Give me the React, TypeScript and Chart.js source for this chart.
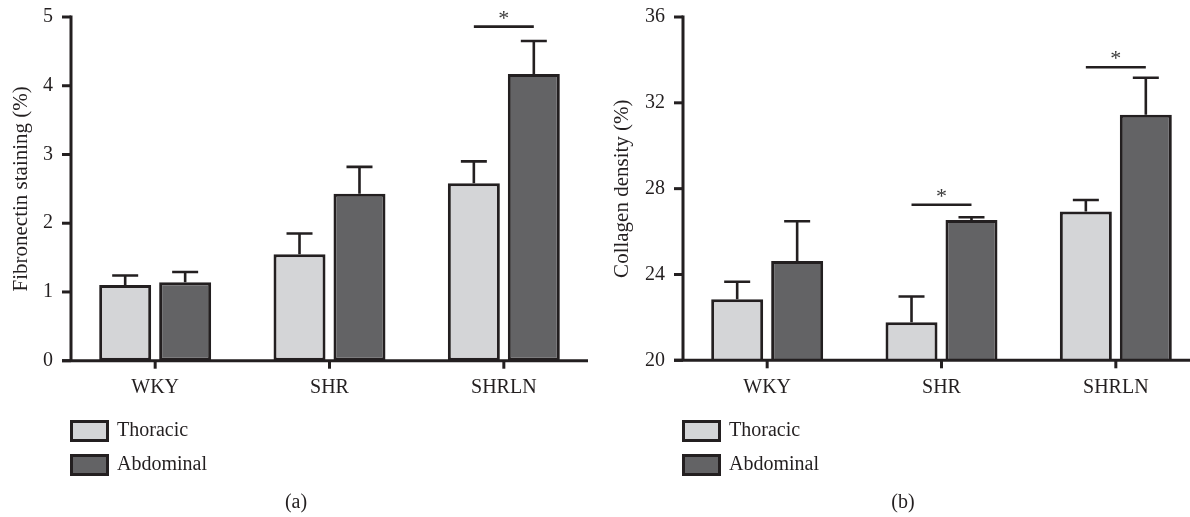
import React, { useEffect, useRef } from 'react';
import { Chart, registerables } from 'chart.js';

Chart.register(...registerables);

// ---------- data ----------
const categories = ['WKY', 'SHR', 'SHRLN'];
const seriesNames = ['Thoracic', 'Abdominal'];

// (a) Fibronectin staining (%)
const fibroThoracic = [1.1, 1.55, 2.58];
const fibroAbdominal = [1.14, 2.43, 4.17];
const fibroThoracicErr = [0.14, 0.3, 0.32];
const fibroAbdominalErr = [0.15, 0.39, 0.48];
const fibroSigLevel = [null, null, 4.86];
const fibroTicks = [0, 1, 2, 3, 4, 5];

// (b) Collagen density (%)
const collThoracic = [22.84, 21.77, 26.93];
const collAbdominal = [24.63, 26.54, 31.45];
const collThoracicErr = [0.82, 1.2, 0.54];
const collAbdominalErr = [1.85, 0.13, 1.72];
const collSigLevel = [null, 27.25, 33.66];
const collTicks = [20, 24, 28, 32, 36];

// ---------- styles ----------
const INK = '#231f20';
const FILLS = ['#d4d5d7', '#636365'];
const FONT = "'Liberation Serif', 'Times New Roman', serif";
const CANVAS_H = 517;

type PanelProps = {
  left: number;
  width: number;
  areaLeft: number;
  areaRight: number;
  areaTop: number;
  areaBottom: number;
  yTitle: string;
  yTitlePad: number;
  caption: string;
  captionX: number;
  thoracic: number[];
  abdominal: number[];
  thoracicErr: number[];
  abdominalErr: number[];
  sigLevel: (number | null)[];
  ticks: number[];
  axisRightInset: number;
};

function Panel(p: PanelProps) {
  const ref = useRef<HTMLCanvasElement | null>(null);

  useEffect(() => {
    const canvas = ref.current;
    if (!canvas) return;
    const errs = [p.thoracicErr, p.abdominalErr];
    const yMin = p.ticks[0];
    const yMax = p.ticks[p.ticks.length - 1];
    const step = p.ticks[1] - p.ticks[0];

    const overlay = {
      id: 'overlay',
      afterDatasetsDraw(chart: any) {
        const ctx = chart.ctx as CanvasRenderingContext2D;
        const area = chart.chartArea;
        const ys = chart.scales.y;
        const xs = chart.scales.x;
        ctx.save();
        ctx.strokeStyle = INK;
        ctx.lineCap = 'butt';

        // error bars (upper only)
        ctx.lineWidth = 2.6;
        for (let d = 0; d < 2; d++) {
          const meta = chart.getDatasetMeta(d);
          const vals = chart.data.datasets[d].data as number[];
          meta.data.forEach((bar: any, i: number) => {
            const yTop = ys.getPixelForValue(vals[i] + errs[d][i]);
            const yBar = ys.getPixelForValue(vals[i]);
            ctx.beginPath();
            ctx.moveTo(bar.x, yBar);
            ctx.lineTo(bar.x, yTop);
            ctx.moveTo(bar.x - 13, yTop);
            ctx.lineTo(bar.x + 13, yTop);
            ctx.stroke();
          });
        }

        // axes
        const axisX = area.left + 3;
        ctx.lineWidth = 3;
        ctx.beginPath();
        ctx.moveTo(axisX, ys.getPixelForValue(yMax) - 1.5);
        ctx.lineTo(axisX, area.bottom);
        ctx.stroke();
        p.ticks.forEach((t) => {
          const y = ys.getPixelForValue(t);
          ctx.beginPath();
          ctx.moveTo(axisX - 9, y);
          ctx.lineTo(axisX, y);
          ctx.stroke();
        });
        ctx.beginPath();
        ctx.moveTo(axisX - 9, area.bottom);
        ctx.lineTo(area.right - p.axisRightInset, area.bottom);
        ctx.stroke();
        categories.forEach((_, i) => {
          const x = xs.getPixelForValue(i);
          ctx.beginPath();
          ctx.moveTo(x, area.bottom);
          ctx.lineTo(x, area.bottom + 8);
          ctx.stroke();
        });

        // significance markers
        const m0 = chart.getDatasetMeta(0);
        const m1 = chart.getDatasetMeta(1);
        p.sigLevel.forEach((lvl, i) => {
          if (lvl === null || lvl === undefined) return;
          const y = ys.getPixelForValue(lvl);
          const x0 = m0.data[i].x;
          const x1 = m1.data[i].x;
          ctx.lineWidth = 2.6;
          ctx.strokeStyle = INK;
          ctx.beginPath();
          ctx.moveTo(x0, y);
          ctx.lineTo(x1, y);
          ctx.stroke();
          ctx.fillStyle = '#3a3a3a';
          ctx.font = `22px ${FONT}`;
          ctx.textAlign = 'center';
          ctx.textBaseline = 'alphabetic';
          ctx.fillText('*', (x0 + x1) / 2, y - 2);
        });

        // legend
        const boxX = axisX - 1;
        const rows = [420, 454];
        seriesNames.forEach((name, d) => {
          const by = rows[d];
          ctx.fillStyle = FILLS[d];
          ctx.fillRect(boxX, by, 39, 22);
          ctx.lineWidth = 3;
          ctx.strokeStyle = INK;
          ctx.strokeRect(boxX + 1.5, by + 1.5, 36, 19);
          ctx.fillStyle = INK;
          ctx.font = `20px ${FONT}`;
          ctx.textAlign = 'left';
          ctx.textBaseline = 'middle';
          ctx.fillText(chart.data.datasets[d].label, boxX + 47, by + 11);
        });

        // caption
        ctx.fillStyle = INK;
        ctx.font = `20px ${FONT}`;
        ctx.textAlign = 'center';
        ctx.textBaseline = 'middle';
        ctx.fillText(p.caption, p.captionX, 503);
        ctx.restore();
      },
    };

    const tickFont = { family: FONT, size: 20 };
    const chart = new Chart(canvas, {
      type: 'bar',
      data: {
        labels: categories,
        datasets: [
          {
            label: seriesNames[0],
            data: p.thoracic,
            backgroundColor: FILLS[0],
            borderColor: INK,
            borderWidth: 3,
            borderSkipped: false,
            categoryPercentage: 0.688,
            barPercentage: 0.867,
          },
          {
            label: seriesNames[1],
            data: p.abdominal,
            backgroundColor: FILLS[1],
            borderColor: INK,
            borderWidth: 3,
            borderSkipped: false,
            categoryPercentage: 0.688,
            barPercentage: 0.867,
          },
        ],
      },
      options: {
        responsive: false,
        animation: false,
        events: [],
        layout: {
          padding: { top: p.areaTop, left: 0, bottom: 0, right: p.width - p.areaRight },
        },
        plugins: { legend: { display: false }, tooltip: { enabled: false } },
        scales: {
          x: {
            grid: { display: false, drawTicks: false },
            border: { display: false },
            ticks: { font: tickFont, color: INK, padding: 15, maxRotation: 0 },
            afterFit: (s: any) => {
              s.height = CANVAS_H - p.areaBottom;
              s.paddingLeft = 0;
              s.paddingRight = 0;
            },
          },
          y: {
            min: yMin,
            max: yMax,
            grid: { display: false, drawTicks: false },
            border: { display: false },
            ticks: { stepSize: step, font: tickFont, color: INK, padding: 15 },
            title: {
              display: true,
              text: p.yTitle,
              font: { family: FONT, size: 21 },
              color: INK,
              padding: { top: p.yTitlePad, bottom: 0 },
            },
            afterFit: (s: any) => {
              s.width = p.areaLeft;
              s.paddingTop = 0;
              s.paddingBottom = 0;
            },
          },
        },
      } as any,
      plugins: [overlay],
    });
    return () => chart.destroy();
  }, []);

  return (
    <canvas
      ref={ref}
      width={p.width}
      height={CANVAS_H}
      style={{ position: 'absolute', left: p.left, top: 0, width: p.width, height: CANVAS_H }}
    />
  );
}

export default function App() {
  return (
    <div
      style={{
        position: 'fixed',
        left: 0,
        top: 0,
        width: 1190,
        height: 517,
        overflow: 'hidden',
        background: '#ffffff',
      }}
    >
      <Panel
        left={0}
        width={600}
        areaLeft={68}
        areaRight={591}
        areaTop={17}
        areaBottom={360.7}
        yTitle="Fibronectin staining (%)"
        yTitlePad={9}
        caption="(a)"
        captionX={296}
        thoracic={fibroThoracic}
        abdominal={fibroAbdominal}
        thoracicErr={fibroThoracicErr}
        abdominalErr={fibroAbdominalErr}
        sigLevel={fibroSigLevel}
        ticks={fibroTicks}
        axisRightInset={3}
      />
      <Panel
        left={590}
        width={620}
        areaLeft={90}
        areaRight={613}
        areaTop={17}
        areaBottom={360.3}
        yTitle="Collagen density (%)"
        yTitlePad={20}
        caption="(b)"
        captionX={313}
        thoracic={collThoracic}
        abdominal={collAbdominal}
        thoracicErr={collThoracicErr}
        abdominalErr={collAbdominalErr}
        sigLevel={collSigLevel}
        ticks={collTicks}
        axisRightInset={-20}
      />
    </div>
  );
}
